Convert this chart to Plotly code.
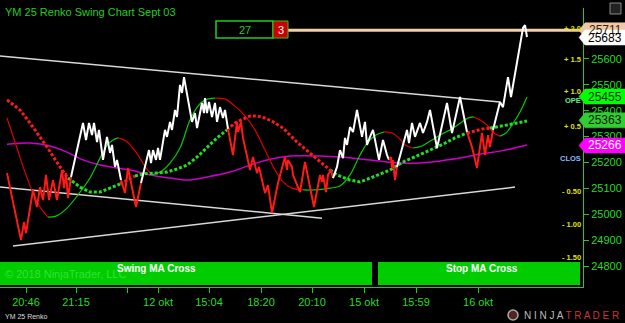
import plotly.graph_objects as go

# ---------------- data ----------------
# Renko close path (bar position, price, trend code: W = up-swing white, R = down-swing red)
bar_x = [7, 21, 24, 26, 33, 37, 40, 43, 46, 49, 53, 57, 62, 64, 66, 68, 71,
         83, 86, 89, 92, 94, 97, 99, 103, 107, 110, 112, 115, 117, 121,
         125, 128, 136, 141,
         147, 149, 151, 153, 156, 158, 160, 165, 167, 170, 172, 175, 177, 180, 182, 184,
         192, 195, 197, 202, 204, 205, 207, 209, 212, 215, 217, 220, 223, 225, 228,
         233, 237, 238, 241, 243, 250, 253, 257, 259, 265, 268, 272, 278, 282, 285, 287,
         288, 292, 293, 300, 305, 314, 320, 322, 323, 326, 328, 331, 333,
         337, 340, 343, 345, 347, 350, 353, 357, 362, 365, 367, 370, 373, 379, 383, 387, 389,
         391, 392, 393, 395, 397,
         407, 409, 412, 415, 420, 423, 427, 430, 437, 447, 452, 460, 467,
         472, 477, 482, 485, 488, 490, 493,
         500, 503, 508, 511, 523, 525, 527]
close = [25159, 24900, 24970, 24927, 25094, 25028, 25105, 25055, 25152, 25055, 25132, 25055,
         25171, 25101, 25159, 25063, 25144,
         25353, 25287, 25353, 25306, 25353, 25279, 25326, 25210, 25299, 25237, 25268, 25183,
         25210, 25132,
         25082, 25179, 25028, 25121,
         25210, 25248, 25198, 25248, 25210, 25256, 25210, 25326, 25299, 25357, 25326, 25403,
         25376, 25500, 25469, 25530,
         25357, 25391, 25333, 25430, 25391, 25449, 25391, 25434, 25376, 25430, 25357, 25414,
         25372, 25403, 25330,
         25229, 25357, 25318, 25357, 25295, 25171, 25221, 25159, 25183, 25082, 25113, 25005,
         25121, 25179, 25221, 25171,
         25210, 25183, 25152, 25086, 25202, 25028, 25152, 25125, 25152, 25086, 25152, 25171,
         25140,
         25183, 25248, 25217, 25295, 25268, 25337, 25318, 25403, 25299, 25357, 25268, 25299,
         25326, 25210, 25287, 25229, 25210,
         25221, 25179, 25210, 25132, 25183,
         25326, 25275, 25353, 25299, 25353, 25314, 25357, 25403, 25256, 25430, 25314, 25453,
         25318,
         25260, 25179, 25314, 25229, 25306, 25260, 25326,
         25434, 25414, 25530, 25453, 25720, 25731, 25685]
trend = (["R"] * 17 + ["W"] * 14 + ["R"] * 4 + ["W"] * 31 + ["R"] * 29 + ["W"] * 17
         + ["R"] * 5 + ["W"] * 13 + ["R"] * 7 + ["W"] * 7)

# Swing MA (thin line, G = rising, R = falling)
ma_x = [7, 15, 25, 33, 40, 48, 56, 66, 78, 90, 100, 108, 113, 118, 126, 136, 146, 152,
        160, 170, 180, 190, 198, 205, 215, 225, 235, 245, 255, 265, 275, 283, 292, 303,
        315, 330, 340, 350, 360, 368, 376, 384, 392, 400, 405, 413, 422, 432, 442, 452,
        462, 468, 474, 480, 487, 494, 500, 506, 512, 520, 527]
ma_y = [25372, 25279, 25163, 25082, 25028, 24989, 24993, 25020, 25075, 25140, 25217, 25271,
        25287, 25295, 25283, 25240, 25179, 25152,
        25163, 25198, 25256, 25364, 25418, 25442, 25449, 25445, 25418, 25380, 25326, 25248,
        25171, 25125, 25101, 25094,
        25094, 25101, 25109, 25152, 25229, 25279, 25306, 25318, 25314, 25291, 25268, 25256,
        25264, 25287, 25310, 25330, 25357, 25372, 25376, 25364, 25345, 25314, 25302,
        25314, 25345, 25395, 25453]
ma_c = (["R"] * 6 + ["G"] * 8 + ["R"] * 4 + ["G"] * 7 + ["R"] * 9 + ["G"] * 8
        + ["R"] * 4 + ["G"] * 7 + ["R"] * 4 + ["G"] * 4)

# Stop MA (dotted line)
st_x = [7, 20, 33, 47, 60, 68, 73, 80, 90, 100, 110, 120, 128, 135, 143, 155, 167, 177,
        187, 197, 207, 217, 227, 235, 243, 250, 257, 265, 272, 283, 297, 310, 320, 330,
        337, 350, 360, 373, 390, 403, 417, 430, 443, 455, 467, 475, 483, 490, 497, 507,
        517, 527]
st_y = [25442, 25403, 25337, 25260, 25183, 25140, 25125, 25105, 25086, 25086, 25101, 25117,
        25132, 25148, 25156, 25159, 25163, 25175, 25190, 25221, 25260, 25295, 25326, 25353,
        25368, 25380, 25380, 25372, 25360, 25333, 25279, 25237, 25202, 25171,
        25152, 25132, 25125, 25144, 25171, 25202, 25225, 25248, 25271, 25295, 25314, 25322,
        25330, 25333, 25337, 25345, 25353, 25360]
st_c = (["R"] * 6 + ["G"] * 6 + ["R"] * 2 + ["G"] * 9 + ["R"] * 11 + ["G"] * 11
        + ["R"] * 3 + ["G"] * 4)

# Slow MA (magenta)
sl_x = [7, 30, 50, 67, 83, 100, 117, 130, 150, 170, 187, 207, 230, 250, 270, 290, 320,
        340, 370, 400, 420, 440, 460, 480, 500, 527]
sl_y = [25271, 25275, 25264, 25240, 25210, 25190, 25179, 25171, 25152, 25140, 25132, 25144,
        25163, 25190, 25213, 25225, 25225, 25221, 25210, 25198, 25198, 25206, 25217, 25233,
        25244, 25268]

# Channel lines
ch_top_x, ch_top_y = [0, 500], [25612, 25434]
ch_mid_x, ch_mid_y = [0, 322], [25105, 24985]
ch_bot_x, ch_bot_y = [13, 515], [24877, 25105]

# Level line
level_x, level_y = [288, 583], [25711, 25711]

# Axis ticks
y_ticks = [24800, 24900, 25000, 25100, 25200, 25300, 25400, 25500, 25600]
x_tickpos = [26, 76, 127, 158, 209, 261, 312, 364, 416, 478]
x_ticklab = ["20:46", "21:15", "", "12 okt", "15:04", "18:20", "20:10", "15 okt", "15:59", "16 okt"]

# Price tags at right
tag_vals = ["25711", "25683", "25455", "25363", "25266"]
tag_price = [25711, 25683, 25455, 25363, 25266]
tag_bg = ["#f0c8a4", "#ffffff", "#00ff00", "#33cc33", "#ff00ff"]
tag_fg = ["#332211", "#000000", "#003300", "#002200", "#ffffff"]

# ---------------- layout geometry ----------------
W, H = 625, 323
ML, MR, MT, MB = 0, 42, 8, 36
PW = W - ML - MR
PH = H - MT - MB
YMIN, YMAX = 24719, 25797


def px(x):
    return x / PW


def py(y):
    return (H - MB - y) / PH


def pp(price):
    return (price - YMIN) / (YMAX - YMIN)


COL = {"W": "#ffffff", "R": "#ff1a1a", "G": "#22dd22"}
MACOL = {"R": "#dd0000", "G": "#00cc00"}


def runs(xs, ys, codes):
    out = []
    cur = codes[1] if len(codes) > 1 else codes[0]
    sx, sy = [xs[0]], [ys[0]]
    for i in range(1, len(xs)):
        c = codes[i]
        if c != cur:
            out.append((cur, sx, sy))
            sx, sy = [xs[i - 1]], [ys[i - 1]]
            cur = c
        sx.append(xs[i])
        sy.append(ys[i])
    out.append((cur, sx, sy))
    return out


def note(x, y, text, size, color, xa="center", bold=False, family="Arial"):
    return dict(xref="paper", yref="paper", x=x, y=y, xanchor=xa, yanchor="middle",
                text=("<b>" + text + "</b>") if bold else text, showarrow=False,
                font=dict(family=family, size=size, color=color))


fig = go.Figure()

# channel lines
for cx, cy in [(ch_top_x, ch_top_y), (ch_mid_x, ch_mid_y), (ch_bot_x, ch_bot_y)]:
    fig.add_trace(go.Scatter(x=cx, y=cy, mode="lines",
                             line=dict(color="#d8d8d8", width=1.5), hoverinfo="skip"))

# level line
fig.add_trace(go.Scatter(x=level_x, y=level_y, mode="lines",
                         line=dict(color="#f2cfa8", width=3), hoverinfo="skip"))

# slow MA
fig.add_trace(go.Scatter(x=sl_x, y=sl_y, mode="lines", line=dict(color="#cc00cc", width=1.5),
                         line_shape="spline", hoverinfo="skip"))

# swing MA
for c, sx, sy in runs(ma_x, ma_y, ma_c):
    fig.add_trace(go.Scatter(x=sx, y=sy, mode="lines", line=dict(color=MACOL[c], width=1.2),
                             line_shape="spline", hoverinfo="skip"))

# stop MA dotted
for c, sx, sy in runs(st_x, st_y, st_c):
    fig.add_trace(go.Scatter(x=sx, y=sy, mode="lines",
                             line=dict(color=COL[c], width=3, dash="3px,2px"),
                             hoverinfo="skip"))

# price
for c, sx, sy in runs(bar_x, close, trend):
    fig.add_trace(go.Scatter(x=sx, y=sy, mode="lines", line=dict(color=COL[c], width=2),
                             hoverinfo="skip"))

shapes = []
ann = []

# bottom panels
shapes.append(dict(type="rect", xref="paper", yref="paper", x0=px(0), x1=px(372),
                   y0=py(285), y1=py(262), fillcolor="#00cc00", line=dict(width=0), layer="above"))
shapes.append(dict(type="rect", xref="paper", yref="paper", x0=px(378), x1=px(580),
                   y0=py(285), y1=py(262), fillcolor="#00cc00", line=dict(width=0), layer="above"))
ann.append(note(px(156), py(268), "Swing MA Cross", 10, "#ffffff", bold=True))
ann.append(note(px(482), py(268), "Stop MA Cross", 10, "#ffffff", bold=True))
ann.append(note(px(3), py(274), "© 2018 NinjaTrader, LLC", 11, "rgba(120,255,120,0.45)", xa="left"))

# title
ann.append(note(px(3), py(12), "YM 25 Renko Swing Chart Sept 03", 11, "#22cc22", xa="left"))

# box 27 | 3
shapes.append(dict(type="rect", xref="paper", yref="paper", x0=px(216), x1=px(273),
                   y0=py(38), y1=py(21), fillcolor="#000000",
                   line=dict(color="#22cc22", width=1.5), layer="above"))
shapes.append(dict(type="rect", xref="paper", yref="paper", x0=px(273), x1=px(288),
                   y0=py(38), y1=py(21), fillcolor="#cc0000",
                   line=dict(color="#22cc22", width=1), layer="above"))
ann.append(note(px(244.5), py(29.5), "27", 11, "#22cc22"))
ann.append(note(px(280.5), py(29.5), "3", 11, "#ffffff"))

# yellow level labels inside right edge
lvl = [("+ 2.0", 28, "#e0e000"), ("+ 1.5", 60, "#e0e000"), ("+ 1.0", 92, "#e0e000"),
       ("OPE", 100, "#66ee88"), ("+ 0.5", 126, "#e0e000"), ("CLOS", 158, "#88bbff"),
       ("- 0.50", 191, "#e0e000"), ("- 1.00", 224, "#e0e000"), ("- 1.50", 257, "#e0e000")]
for t, yy, cc in lvl:
    ann.append(note(px(583), py(yy), t, 7.5, cc, xa="right", bold=True))

# price tags
for v, p, bg, fg in zip(tag_vals, tag_price, tag_bg, tag_fg):
    yc = pp(p)
    d = 7.5 / PH
    x0, x1, x2 = px(579), px(585), px(625)
    shapes.append(dict(type="path", xref="paper", yref="paper",
                       path=f"M {x0},{yc} L {x1},{yc + d} L {x2},{yc + d} L {x2},{yc - d} L {x1},{yc - d} Z",
                       fillcolor=bg, line=dict(color=bg, width=0.5), layer="above"))
    ann.append(note(px(605), yc, v, 12, fg))

# top-right icon
shapes.append(dict(type="rect", xref="paper", yref="paper", x0=px(610), x1=px(621),
                   y0=py(14), y1=py(3), fillcolor="#222222",
                   line=dict(color="#888888", width=1)))

# bottom texts
ann.append(note(px(3), py(316), "YM 25 Renko", 7, "#dddddd", xa="left"))
ann.append(note(px(621), py(315),
                "<span style='color:#bbbbbb'>N I N J A</span><span style='color:#cc3333'> T R A D E R</span>",
                10, "#bbbbbb", xa="right"))
shapes.append(dict(type="circle", xref="paper", yref="paper", x0=px(508), x1=px(518),
                   y0=py(320), y1=py(310), line=dict(color="#aaaaaa", width=1.5),
                   fillcolor="#552222"))

fig.update_layout(
    width=W, height=H,
    margin=dict(l=ML, r=MR, t=MT, b=MB, pad=0),
    paper_bgcolor="#000000", plot_bgcolor="#000000",
    showlegend=False,
    shapes=shapes, annotations=ann,
    xaxis=dict(range=[0, PW], showgrid=False, zeroline=False,
               tickmode="array", tickvals=x_tickpos, ticktext=x_ticklab,
               ticks="outside", ticklen=5, tickcolor="#22cc22", tickwidth=1,
               showline=True, linecolor="#22cc22", linewidth=1,
               tickfont=dict(family="Arial", size=11, color="#22dd22")),
    yaxis=dict(range=[YMIN, YMAX], side="right", showgrid=False, zeroline=False,
               tickmode="array", tickvals=y_ticks, ticktext=[str(v) for v in y_ticks],
               ticks="outside", ticklen=5, tickcolor="#22cc22", tickwidth=1,
               showline=True, linecolor="#22cc22", linewidth=1,
               tickfont=dict(family="Arial", size=11, color="#22dd22")),
)

fig.write_html("out.html")
